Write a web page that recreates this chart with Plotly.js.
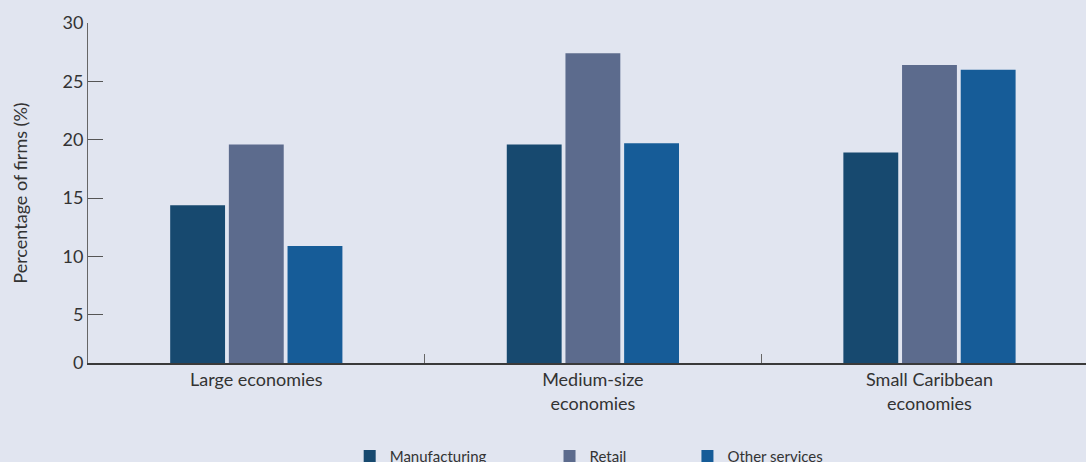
<!DOCTYPE html>
<html>
<head>
<meta charset="utf-8">
<script src="https://cdn.plot.ly/plotly-3.0.1.min.js"></script>
<style>
html,body{margin:0;padding:0;background:#E1E5F0;}
#chart{width:1086px;height:462px;}
</style>
</head>
<body>
<div id="chart"></div>
<script>
const categories = ["Large economies", "Medium-size<br>economies", "Small Caribbean<br>economies"];
const seriesNames = ["Manufacturing", "Retail", "Other services"];
const manufacturing = [14.4, 19.6, 18.9];
const retail = [19.6, 27.4, 26.4];
const otherServices = [10.9, 19.7, 26.0];
const colors = ["#17496F", "#5C6B8D", "#165C98"];
const tickValues = [0, 5, 10, 15, 20, 25, 30];

const values = [manufacturing, retail, otherServices];
const legendIds = ["legend", "legend2", "legend3"];
const traces = values.map((v, i) => ({
  type: "bar",
  name: seriesNames[i],
  x: categories,
  y: v,
  marker: {color: colors[i]},
  legend: legendIds[i],
  hoverinfo: "skip"
}));

// axis baseline sits slightly above the zero of the tick scale in the original
const yBase = 0.88;
const tickPos = tickValues.map(t => t === 0 ? yBase : t);

const legendX = [0.322, 0.506, 0.633];
const legendCommon = {
  orientation: "h", xref: "container", yref: "container",
  xanchor: "left", yanchor: "top", y: 0.048,
  font: {size: 15, color: "#333333"},
  bgcolor: "rgba(0,0,0,0)"
};

const layout = {
  width: 1086, height: 462,
  paper_bgcolor: "#E1E5F0", plot_bgcolor: "#E1E5F0",
  font: {family: "Lato, 'Open Sans', sans-serif", size: 18, color: "#333333"},
  margin: {l: 88, r: 0, t: 23, b: 99},
  barmode: "group",
  bargap: 0.477,
  bargroupgap: 0.065,
  showlegend: true,
  legend: Object.assign({}, legendCommon, {x: legendX[0]}),
  legend2: Object.assign({}, legendCommon, {x: legendX[1]}),
  legend3: Object.assign({}, legendCommon, {x: legendX[2]}),
  xaxis: {
    type: "category",
    range: [-0.5, 2.465],
    showline: true, linecolor: "#3a3a3a", linewidth: 1.5,
    ticks: "inside", ticklen: 9, tickcolor: "#666666", tickwidth: 1,
    tickson: "boundaries",
    showgrid: false, zeroline: false,
    tickfont: {size: 18, color: "#333333"}
  },
  yaxis: {
    range: [yBase, 30],
    tickvals: tickPos,
    ticktext: tickValues.map(String),
    showline: true, linecolor: "#666666", linewidth: 1,
    ticks: "inside", ticklen: 15, tickcolor: "#555555", tickwidth: 1,
    showgrid: false, zeroline: false,
    tickfont: {size: 18, color: "#333333"},
    title: {text: "Percentage of firms (%)", font: {size: 18, color: "#333333"}, standoff: 30}
  }
};

Plotly.newPlot("chart", traces, layout, {displayModeBar: false, staticPlot: true});
</script>
</body>
</html>
